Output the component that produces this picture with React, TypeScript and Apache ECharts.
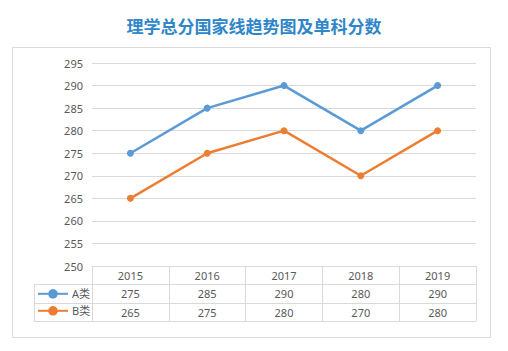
import React, { useEffect, useRef } from "react";
import * as echarts from "echarts";

const titleText = "理学总分国家线趋势图及单科分数";
const years = ["2015", "2016", "2017", "2018", "2019"];
const seriesNames = ["A类", "B类"];
const seriesA = [275, 285, 290, 280, 290];
const seriesB = [265, 275, 280, 270, 280];
const yMin = 250;
const yMax = 295;
const yStep = 5;

const GRID_L = 92;
const GRID_R = 476;
const GRID_T = 63;
const GRID_B = 266;
const ROW_H = 18.3;
const TXT = "#595959";
const LINE = "#d9d9d9";
const FONT = "'Noto Sans', 'Noto Sans CJK SC', sans-serif";

export default function App() {
  const ref = useRef<HTMLDivElement>(null);
  useEffect(() => {
    if (!ref.current) return;
    const chart = echarts.init(ref.current, undefined, { renderer: "svg" });
    const W = 508, H = 351;
    const tableLines: any[] = [];
    for (let i = 1; i <= 3; i++) {
      const y = Math.round(GRID_B + ROW_H * i) + 0.5;
      tableLines.push({
        type: "line",
        shape: { x1: 34, y1: y, x2: GRID_R, y2: y },
        style: { stroke: LINE, lineWidth: 1 },
        z: 1,
      });
    }
    tableLines.push({
      type: "line",
      shape: { x1: 34.5, y1: Math.round(GRID_B + ROW_H) + 0.5, x2: 34.5, y2: Math.round(GRID_B + ROW_H * 3) + 0.5 },
      style: { stroke: LINE, lineWidth: 1 },
      z: 1,
    });
    tableLines.push({
      type: "line",
      shape: { x1: GRID_L + 0.5, y1: GRID_B, x2: GRID_L + 0.5, y2: Math.round(GRID_B + ROW_H * 3) + 0.5 },
      style: { stroke: LINE, lineWidth: 1 },
      z: 1,
    });

    const valueAxis = (data: number[], offset: number) => ({
      type: "category",
      data: data.map(String),
      position: "bottom",
      offset,
      gridIndex: 0,
      boundaryGap: true,
      axisLine: { show: false },
      axisTick: { show: false },
      splitLine: { show: false },
      axisLabel: { color: TXT, fontSize: 11, fontFamily: FONT, margin: 4 },
    });

    chart.setOption({
      animation: false,
      backgroundColor: "#ffffff",
      title: {
        text: titleText,
        left: "center",
        top: 12,
        textStyle: { color: "#2F86C8", fontSize: 17, fontWeight: "bold", fontFamily: "'Noto Sans CJK SC', sans-serif" },
      },
      graphic: [
        {
          type: "rect",
          shape: { x: 12.5, y: 47.5, width: 478, height: 290 },
          style: { fill: "#ffffff", stroke: LINE, lineWidth: 1 },
          z: -10,
        },
        ...tableLines,
      ],
      legend: {
        orient: "vertical",
        left: 37,
        top: GRID_B + ROW_H + 4,
        itemWidth: 30,
        itemHeight: 12,
        itemGap: 6,
        textStyle: { color: TXT, fontSize: 11, fontFamily: FONT, padding: [0, 0, 0, -1] },
        padding: 0,
        data: seriesNames,
      },
      grid: { left: GRID_L, right: W - GRID_R, top: GRID_T, bottom: H - GRID_B, containLabel: false },
      xAxis: [
        {
          type: "category",
          data: years,
          boundaryGap: true,
          axisLine: { show: true, lineStyle: { color: LINE, width: 1 } },
          axisTick: { show: true, length: Math.round(ROW_H * 3), lineStyle: { color: LINE } },
          axisLabel: { color: TXT, fontSize: 11, fontFamily: FONT, margin: 4 },
          splitLine: { show: false },
        },
        valueAxis(seriesA, Math.round(ROW_H)),
        valueAxis(seriesB, Math.round(ROW_H * 2)),
      ],
      yAxis: {
        type: "value",
        min: yMin,
        max: yMax,
        interval: yStep,
        axisLine: { show: false },
        axisTick: { show: false },
        axisLabel: { color: TXT, fontSize: 11, fontFamily: FONT, margin: 9 },
        splitLine: { lineStyle: { color: LINE, width: 1 } },
      },
      series: [
        {
          name: seriesNames[0],
          type: "line",
          data: seriesA,
          color: "#5B9BD5",
          symbol: "circle",
          symbolSize: 7,
          lineStyle: { width: 2.5 },
        },
        {
          name: seriesNames[1],
          type: "line",
          data: seriesB,
          color: "#ED7D31",
          symbol: "circle",
          symbolSize: 7,
          lineStyle: { width: 2.5 },
        },
      ],
    });
    return () => chart.dispose();
  }, []);
  return <div ref={ref} style={{ position: "fixed", left: 0, top: 0, width: 508, height: 351 }} />;
}
